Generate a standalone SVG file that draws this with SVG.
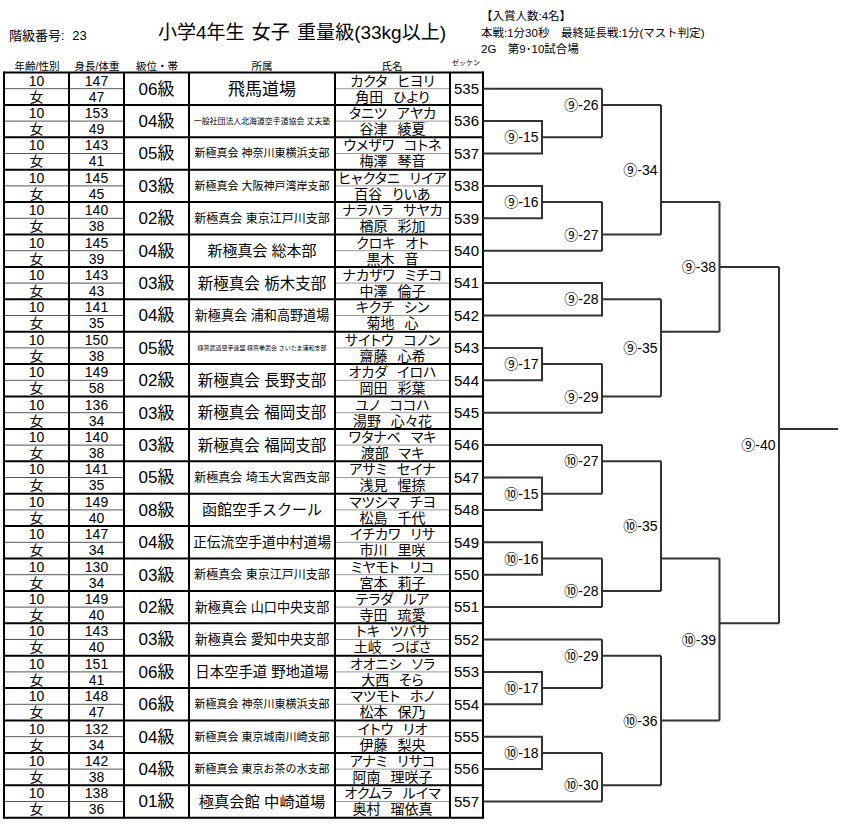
<svg xmlns="http://www.w3.org/2000/svg" width="844" height="824" viewBox="0 0 844 824">
<style>
text { font-family: "Liberation Sans", "Noto Sans CJK JP", sans-serif; fill: #000; }
.v { font-size: 14px; text-anchor: middle; }
.z { font-size: 15px; text-anchor: middle; }
.rk { font-size: 17px; text-anchor: middle; }
.af { text-anchor: middle; }
.nm { font-size: 14px; text-anchor: middle; font-feature-settings: "palt"; word-spacing: 6px; }
.hd { font-size: 10.5px; text-anchor: middle; }
.zk { font-size: 7px; text-anchor: middle; }
.lb { font-size: 14px; text-anchor: end; }
.info { font-size: 11.5px; }
.ttl { font-size: 19px; word-spacing: 2px; }
.cls { font-size: 13px; word-spacing: 4px; }
.thick { stroke: #000; stroke-width: 2; fill: none; }
.thin { stroke: #555; stroke-width: 1; fill: none; }
.gray { stroke: #999; stroke-width: 1; fill: none; }
.br { stroke: #333; stroke-width: 2; fill: none; }
</style>
<rect x="0" y="0" width="844" height="824" fill="#fff"/>

<g id="header">
<text x="9" y="39.5" class="cls">階級番号: 23</text>
<text x="158" y="39" class="ttl">小学4年生 女子 重量級(33kg以上)</text>
<text x="481" y="20" class="info">【入賞人数:4名】</text>
<text x="481" y="37" class="info">本戦:1分30秒　最終延長戦:1分(マスト判定)</text>
<text x="481" y="53" class="info">2G　第9･10試合場</text>
<text x="37" y="69.5" class="hd">年齢/性別</text>
<text x="97" y="69.5" class="hd">身長/体重</text>
<text x="157" y="69.5" class="hd">級位・帯</text>
<text x="262" y="69.5" class="hd">所属</text>
<text x="392" y="69.5" class="hd">氏名</text>
<text x="466" y="65" class="zk">ゼッケン</text>
</g>

<g id="table">
<path class="thin" d="M4 88.7H124M4 121.1H124M4 153.5H124M4 185.9H124M4 218.3H124M4 250.7H124M4 283.1H124M4 315.5H124M4 347.9H124M4 380.3H124M4 412.7H124M4 445.1H124M4 477.5H124M4 509.9H124M4 542.3H124M4 574.7H124M4 607.1H124M4 639.5H124M4 671.9H124M4 704.3H124M4 736.7H124M4 769.1H124M4 801.5H124"/>
<path class="gray" d="M335 88.7H450M335 121.1H450M335 153.5H450M335 185.9H450M335 218.3H450M335 250.7H450M335 283.1H450M335 315.5H450M335 347.9H450M335 380.3H450M335 412.7H450M335 445.1H450M335 477.5H450M335 509.9H450M335 542.3H450M335 574.7H450M335 607.1H450M335 639.5H450M335 671.9H450M335 704.3H450M335 736.7H450M335 769.1H450M335 801.5H450"/>
<path class="thick" d="M4 72.5H483M4 104.9H483M4 137.3H483M4 169.7H483M4 202.1H483M4 234.5H483M4 266.9H483M4 299.3H483M4 331.7H483M4 364.1H483M4 396.5H483M4 428.9H483M4 461.3H483M4 493.7H483M4 526.1H483M4 558.5H483M4 590.9H483M4 623.3H483M4 655.7H483M4 688.1H483M4 720.5H483M4 752.9H483M4 785.3H483M4 817.7H483"/>
<path class="thick" d="M4 71.5V818.7M69 72.5V817.7M124 72.5V817.7M189 72.5V817.7M335 72.5V817.7M450 72.5V817.7M483 71.5V818.7"/>
</g>

<g id="e535" transform="translate(0,72.5)">
<text x="36.5" y="13" class="v">10</text><text x="36.5" y="29.2" class="v">女</text>
<text x="96.5" y="13" class="v">147</text><text x="96.5" y="29.2" class="v">47</text>
<text x="156.5" y="22.2" class="rk">06級</text>
<text x="262" y="22.3" class="af" font-size="17">飛馬道場</text>
<text x="392.5" y="13" class="nm">カクタ ヒヨリ</text><text x="392.5" y="29.2" class="nm">角田 ひより</text>
<text x="466.5" y="21.5" class="z">535</text>
</g>
<g id="e536" transform="translate(0,104.9)">
<text x="36.5" y="13" class="v">10</text><text x="36.5" y="29.2" class="v">女</text>
<text x="96.5" y="13" class="v">153</text><text x="96.5" y="29.2" class="v">49</text>
<text x="156.5" y="22.2" class="rk">04級</text>
<text x="262" y="19" class="af" font-size="7.9">一般社団法人北海道空手道協会 丈夫塾</text>
<text x="392.5" y="13" class="nm">タニツ アヤカ</text><text x="392.5" y="29.2" class="nm">谷津 綾夏</text>
<text x="466.5" y="21.5" class="z">536</text>
</g>
<g id="e537" transform="translate(0,137.3)">
<text x="36.5" y="13" class="v">10</text><text x="36.5" y="29.2" class="v">女</text>
<text x="96.5" y="13" class="v">143</text><text x="96.5" y="29.2" class="v">41</text>
<text x="156.5" y="22.2" class="rk">05級</text>
<text x="262" y="20.2" class="af" font-size="11">新極真会 神奈川東横浜支部</text>
<text x="392.5" y="13" class="nm">ウメザワ コトネ</text><text x="392.5" y="29.2" class="nm">梅澤 琴音</text>
<text x="466.5" y="21.5" class="z">537</text>
</g>
<g id="e538" transform="translate(0,169.7)">
<text x="36.5" y="13" class="v">10</text><text x="36.5" y="29.2" class="v">女</text>
<text x="96.5" y="13" class="v">145</text><text x="96.5" y="29.2" class="v">45</text>
<text x="156.5" y="22.2" class="rk">03級</text>
<text x="262" y="20.2" class="af" font-size="11">新極真会 大阪神戸湾岸支部</text>
<text x="392.5" y="13" class="nm">ヒャクタニ リイア</text><text x="392.5" y="29.2" class="nm">百谷 りいあ</text>
<text x="466.5" y="21.5" class="z">538</text>
</g>
<g id="e539" transform="translate(0,202.1)">
<text x="36.5" y="13" class="v">10</text><text x="36.5" y="29.2" class="v">女</text>
<text x="96.5" y="13" class="v">140</text><text x="96.5" y="29.2" class="v">38</text>
<text x="156.5" y="22.2" class="rk">02級</text>
<text x="262" y="20.5" class="af" font-size="12">新極真会 東京江戸川支部</text>
<text x="392.5" y="13" class="nm">ナラハラ サヤカ</text><text x="392.5" y="29.2" class="nm">楢原 彩加</text>
<text x="466.5" y="21.5" class="z">539</text>
</g>
<g id="e540" transform="translate(0,234.5)">
<text x="36.5" y="13" class="v">10</text><text x="36.5" y="29.2" class="v">女</text>
<text x="96.5" y="13" class="v">145</text><text x="96.5" y="29.2" class="v">39</text>
<text x="156.5" y="22.2" class="rk">04級</text>
<text x="262" y="21.6" class="af" font-size="15">新極真会 総本部</text>
<text x="392.5" y="13" class="nm">クロキ オト</text><text x="392.5" y="29.2" class="nm">黒木 音</text>
<text x="466.5" y="21.5" class="z">540</text>
</g>
<g id="e541" transform="translate(0,266.9)">
<text x="36.5" y="13" class="v">10</text><text x="36.5" y="29.2" class="v">女</text>
<text x="96.5" y="13" class="v">143</text><text x="96.5" y="29.2" class="v">43</text>
<text x="156.5" y="22.2" class="rk">03級</text>
<text x="262" y="21.8" class="af" font-size="15.5">新極真会 栃木支部</text>
<text x="392.5" y="13" class="nm">ナカザワ ミチコ</text><text x="392.5" y="29.2" class="nm">中澤 倫子</text>
<text x="466.5" y="21.5" class="z">541</text>
</g>
<g id="e542" transform="translate(0,299.3)">
<text x="36.5" y="13" class="v">10</text><text x="36.5" y="29.2" class="v">女</text>
<text x="96.5" y="13" class="v">141</text><text x="96.5" y="29.2" class="v">35</text>
<text x="156.5" y="22.2" class="rk">04級</text>
<text x="262" y="20.9" class="af" font-size="13.1">新極真会 浦和高野道場</text>
<text x="392.5" y="13" class="nm">キクチ シン</text><text x="392.5" y="29.2" class="nm">菊地 心</text>
<text x="466.5" y="21.5" class="z">542</text>
</g>
<g id="e543" transform="translate(0,331.7)">
<text x="36.5" y="13" class="v">10</text><text x="36.5" y="29.2" class="v">女</text>
<text x="96.5" y="13" class="v">150</text><text x="96.5" y="29.2" class="v">38</text>
<text x="156.5" y="22.2" class="rk">05級</text>
<text x="262" y="18.4" class="af" font-size="6">極真武道空手連盟 極真拳武会 さいたま浦和支部</text>
<text x="392.5" y="13" class="nm">サイトウ コノン</text><text x="392.5" y="29.2" class="nm">齋藤 心希</text>
<text x="466.5" y="21.5" class="z">543</text>
</g>
<g id="e544" transform="translate(0,364.1)">
<text x="36.5" y="13" class="v">10</text><text x="36.5" y="29.2" class="v">女</text>
<text x="96.5" y="13" class="v">149</text><text x="96.5" y="29.2" class="v">58</text>
<text x="156.5" y="22.2" class="rk">02級</text>
<text x="262" y="21.8" class="af" font-size="15.5">新極真会 長野支部</text>
<text x="392.5" y="13" class="nm">オカダ イロハ</text><text x="392.5" y="29.2" class="nm">岡田 彩葉</text>
<text x="466.5" y="21.5" class="z">544</text>
</g>
<g id="e545" transform="translate(0,396.5)">
<text x="36.5" y="13" class="v">10</text><text x="36.5" y="29.2" class="v">女</text>
<text x="96.5" y="13" class="v">136</text><text x="96.5" y="29.2" class="v">34</text>
<text x="156.5" y="22.2" class="rk">03級</text>
<text x="262" y="21.8" class="af" font-size="15.5">新極真会 福岡支部</text>
<text x="392.5" y="13" class="nm">ユノ ココハ</text><text x="392.5" y="29.2" class="nm">湯野 心々花</text>
<text x="466.5" y="21.5" class="z">545</text>
</g>
<g id="e546" transform="translate(0,428.9)">
<text x="36.5" y="13" class="v">10</text><text x="36.5" y="29.2" class="v">女</text>
<text x="96.5" y="13" class="v">140</text><text x="96.5" y="29.2" class="v">38</text>
<text x="156.5" y="22.2" class="rk">03級</text>
<text x="262" y="21.8" class="af" font-size="15.5">新極真会 福岡支部</text>
<text x="392.5" y="13" class="nm">ワタナベ マキ</text><text x="392.5" y="29.2" class="nm">渡部 マキ</text>
<text x="466.5" y="21.5" class="z">546</text>
</g>
<g id="e547" transform="translate(0,461.3)">
<text x="36.5" y="13" class="v">10</text><text x="36.5" y="29.2" class="v">女</text>
<text x="96.5" y="13" class="v">141</text><text x="96.5" y="29.2" class="v">35</text>
<text x="156.5" y="22.2" class="rk">05級</text>
<text x="262" y="20.5" class="af" font-size="12">新極真会 埼玉大宮西支部</text>
<text x="392.5" y="13" class="nm">アサミ セイナ</text><text x="392.5" y="29.2" class="nm">浅見 惺捺</text>
<text x="466.5" y="21.5" class="z">547</text>
</g>
<g id="e548" transform="translate(0,493.7)">
<text x="36.5" y="13" class="v">10</text><text x="36.5" y="29.2" class="v">女</text>
<text x="96.5" y="13" class="v">149</text><text x="96.5" y="29.2" class="v">40</text>
<text x="156.5" y="22.2" class="rk">08級</text>
<text x="262" y="21.6" class="af" font-size="15">函館空手スクール</text>
<text x="392.5" y="13" class="nm">マツシマ チヨ</text><text x="392.5" y="29.2" class="nm">松島 千代</text>
<text x="466.5" y="21.5" class="z">548</text>
</g>
<g id="e549" transform="translate(0,526.1)">
<text x="36.5" y="13" class="v">10</text><text x="36.5" y="29.2" class="v">女</text>
<text x="96.5" y="13" class="v">147</text><text x="96.5" y="29.2" class="v">34</text>
<text x="156.5" y="22.2" class="rk">04級</text>
<text x="262" y="21.2" class="af" font-size="13.8">正伝流空手道中村道場</text>
<text x="392.5" y="13" class="nm">イチカワ リサ</text><text x="392.5" y="29.2" class="nm">市川 里咲</text>
<text x="466.5" y="21.5" class="z">549</text>
</g>
<g id="e550" transform="translate(0,558.5)">
<text x="36.5" y="13" class="v">10</text><text x="36.5" y="29.2" class="v">女</text>
<text x="96.5" y="13" class="v">130</text><text x="96.5" y="29.2" class="v">34</text>
<text x="156.5" y="22.2" class="rk">03級</text>
<text x="262" y="20.5" class="af" font-size="12">新極真会 東京江戸川支部</text>
<text x="392.5" y="13" class="nm">ミヤモト リコ</text><text x="392.5" y="29.2" class="nm">宮本 莉子</text>
<text x="466.5" y="21.5" class="z">550</text>
</g>
<g id="e551" transform="translate(0,590.9)">
<text x="36.5" y="13" class="v">10</text><text x="36.5" y="29.2" class="v">女</text>
<text x="96.5" y="13" class="v">149</text><text x="96.5" y="29.2" class="v">40</text>
<text x="156.5" y="22.2" class="rk">02級</text>
<text x="262" y="20.9" class="af" font-size="13.1">新極真会 山口中央支部</text>
<text x="392.5" y="13" class="nm">テラダ ルア</text><text x="392.5" y="29.2" class="nm">寺田 琉愛</text>
<text x="466.5" y="21.5" class="z">551</text>
</g>
<g id="e552" transform="translate(0,623.3)">
<text x="36.5" y="13" class="v">10</text><text x="36.5" y="29.2" class="v">女</text>
<text x="96.5" y="13" class="v">143</text><text x="96.5" y="29.2" class="v">40</text>
<text x="156.5" y="22.2" class="rk">03級</text>
<text x="262" y="20.9" class="af" font-size="13.1">新極真会 愛知中央支部</text>
<text x="392.5" y="13" class="nm">トキ ツバサ</text><text x="392.5" y="29.2" class="nm">土岐 つばさ</text>
<text x="466.5" y="21.5" class="z">552</text>
</g>
<g id="e553" transform="translate(0,655.7)">
<text x="36.5" y="13" class="v">10</text><text x="36.5" y="29.2" class="v">女</text>
<text x="96.5" y="13" class="v">151</text><text x="96.5" y="29.2" class="v">41</text>
<text x="156.5" y="22.2" class="rk">06級</text>
<text x="262" y="21.4" class="af" font-size="14.4">日本空手道 野地道場</text>
<text x="392.5" y="13" class="nm">オオニシ ソラ</text><text x="392.5" y="29.2" class="nm">大西 そら</text>
<text x="466.5" y="21.5" class="z">553</text>
</g>
<g id="e554" transform="translate(0,688.1)">
<text x="36.5" y="13" class="v">10</text><text x="36.5" y="29.2" class="v">女</text>
<text x="96.5" y="13" class="v">148</text><text x="96.5" y="29.2" class="v">47</text>
<text x="156.5" y="22.2" class="rk">06級</text>
<text x="262" y="20.2" class="af" font-size="11">新極真会 神奈川東横浜支部</text>
<text x="392.5" y="13" class="nm">マツモト ホノ</text><text x="392.5" y="29.2" class="nm">松本 保乃</text>
<text x="466.5" y="21.5" class="z">554</text>
</g>
<g id="e555" transform="translate(0,720.5)">
<text x="36.5" y="13" class="v">10</text><text x="36.5" y="29.2" class="v">女</text>
<text x="96.5" y="13" class="v">132</text><text x="96.5" y="29.2" class="v">34</text>
<text x="156.5" y="22.2" class="rk">04級</text>
<text x="262" y="20.2" class="af" font-size="11">新極真会 東京城南川崎支部</text>
<text x="392.5" y="13" class="nm">イトウ リオ</text><text x="392.5" y="29.2" class="nm">伊藤 梨央</text>
<text x="466.5" y="21.5" class="z">555</text>
</g>
<g id="e556" transform="translate(0,752.9)">
<text x="36.5" y="13" class="v">10</text><text x="36.5" y="29.2" class="v">女</text>
<text x="96.5" y="13" class="v">142</text><text x="96.5" y="29.2" class="v">38</text>
<text x="156.5" y="22.2" class="rk">04級</text>
<text x="262" y="20.2" class="af" font-size="11">新極真会 東京お茶の水支部</text>
<text x="392.5" y="13" class="nm">アナミ リサコ</text><text x="392.5" y="29.2" class="nm">阿南 理咲子</text>
<text x="466.5" y="21.5" class="z">556</text>
</g>
<g id="e557" transform="translate(0,785.3)">
<text x="36.5" y="13" class="v">10</text><text x="36.5" y="29.2" class="v">女</text>
<text x="96.5" y="13" class="v">138</text><text x="96.5" y="29.2" class="v">36</text>
<text x="156.5" y="22.2" class="rk">01級</text>
<text x="262" y="21.7" class="af" font-size="15.3">極真会館 中崎道場</text>
<text x="392.5" y="13" class="nm">オクムラ ルイマ</text><text x="392.5" y="29.2" class="nm">奥村 瑠依真</text>
<text x="466.5" y="21.5" class="z">557</text>
</g>

<g id="connectors">
<path class="br" d="M483 88.7H602"/>
<path class="br" d="M483 121.1H542V153.5H483M542 137.3H602"/>
<path class="br" d="M602 88.7V137.3M602 104.9H661"/>
<path class="br" d="M483 185.9H542V218.3H483M542 202.1H602"/>
<path class="br" d="M483 250.7H602"/>
<path class="br" d="M602 202.1V250.7M602 234.5H661"/>
<path class="br" d="M661 104.9V234.5M661 202.1H719.5"/>
<path class="br" d="M483 283.1H602V315.5H483M602 299.3H661"/>
<path class="br" d="M483 347.9H542V380.3H483M542 364.1H602"/>
<path class="br" d="M483 412.7H602"/>
<path class="br" d="M602 364.1V412.7M602 396.5H661"/>
<path class="br" d="M661 299.3V396.5M661 331.7H719.5"/>
<path class="br" d="M719.5 202.1V331.7M719.5 266.9H779"/>
<path class="br" d="M779 266.9V623.3M779 428.9H838"/>
<path class="br" d="M483 445.1H602"/>
<path class="br" d="M483 477.5H542V509.9H483M542 493.7H602"/>
<path class="br" d="M602 445.1V493.7M602 461.3H661"/>
<path class="br" d="M483 542.3H542V574.7H483M542 558.5H602"/>
<path class="br" d="M483 607.1H602"/>
<path class="br" d="M602 558.5V607.1M602 590.9H661"/>
<path class="br" d="M661 461.3V590.9M661 558.5H719.5"/>
<path class="br" d="M483 639.5H602"/>
<path class="br" d="M483 671.9H542V704.3H483M542 688.1H602"/>
<path class="br" d="M602 639.5V688.1M602 655.7H661"/>
<path class="br" d="M483 736.7H542V769.1H483M542 752.9H602"/>
<path class="br" d="M483 801.5H602"/>
<path class="br" d="M602 752.9V801.5M602 785.3H661"/>
<path class="br" d="M661 655.7V785.3M661 720.5H719.5"/>
<path class="br" d="M719.5 558.5V720.5M719.5 623.3H779"/>
</g>

<g id="match-labels">
<text class="lb" x="538.5" y="142.3">⑨-15</text>
<text class="lb" x="598.5" y="109.9">⑨-26</text>
<text class="lb" x="538.5" y="207.1">⑨-16</text>
<text class="lb" x="598.5" y="239.5">⑨-27</text>
<text class="lb" x="657.5" y="174.5">⑨-34</text>
<text class="lb" x="598.5" y="304.3">⑨-28</text>
<text class="lb" x="538.5" y="369.1">⑨-17</text>
<text class="lb" x="598.5" y="401.5">⑨-29</text>
<text class="lb" x="657.5" y="352.9">⑨-35</text>
<text class="lb" x="716" y="271.9">⑨-38</text>
<text class="lb" x="775.5" y="450.1">⑨-40</text>
<text class="lb" x="538.5" y="498.7">⑩-15</text>
<text class="lb" x="598.5" y="466.3">⑩-27</text>
<text class="lb" x="538.5" y="563.5">⑩-16</text>
<text class="lb" x="598.5" y="595.9">⑩-28</text>
<text class="lb" x="657.5" y="531.1">⑩-35</text>
<text class="lb" x="538.5" y="693.1">⑩-17</text>
<text class="lb" x="598.5" y="660.7">⑩-29</text>
<text class="lb" x="538.5" y="757.9">⑩-18</text>
<text class="lb" x="598.5" y="790.3">⑩-30</text>
<text class="lb" x="657.5" y="725.5">⑩-36</text>
<text class="lb" x="716" y="644.5">⑩-39</text>
</g>
</svg>
